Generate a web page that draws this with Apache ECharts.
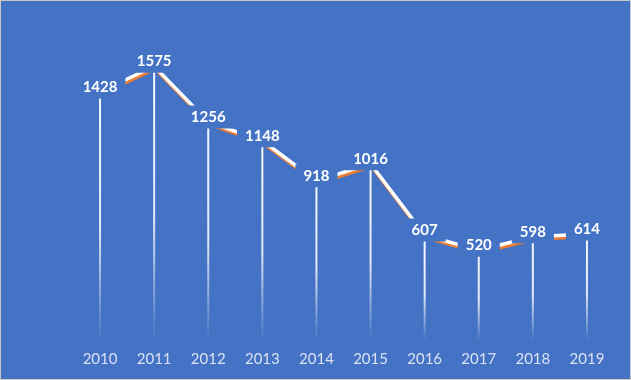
<!DOCTYPE html>
<html>
<head>
<meta charset="utf-8">
<script src="https://cdn.jsdelivr.net/npm/echarts@6/dist/echarts.min.js"></script>
<style>
html,body{margin:0;padding:0;background:#fff;}
#c{width:629px;height:378px;border:1px solid #c8c8c8;background:#4472C4;}
</style>
</head>
<body>
<div id="c"></div>
<script>
const years = ['2010','2011','2012','2013','2014','2015','2016','2017','2018','2019'];
const values = [1428,1575,1256,1148,918,1016,607,520,598,614];

const chart = echarts.init(document.getElementById('c'));
chart.setOption({
  backgroundColor: '#4472C4',
  animation: false,
  grid: {left: 72, right: 16, top: 26, bottom: 38},
  xAxis: {
    type: 'category',
    data: years,
    axisLine: {show: false},
    axisTick: {show: false},
    axisLabel: {color: '#dae2f3', fontFamily: 'Lato', fontSize: 15, margin: 11}
  },
  yAxis: {type: 'value', min: 0, max: 1800, show: false, splitLine: {show: false}},
  series: [
    {
      type: 'bar',
      z: 1,
      barWidth: 2,
      data: values,
      silent: true,
      itemStyle: {
        color: {
          type: 'linear', x: 0, y: 0, x2: 0, y2: 1,
          colorStops: [
            {offset: 0, color: 'rgba(255,255,255,0.95)'},
            {offset: 0.55, color: 'rgba(255,255,255,0.85)'},
            {offset: 1, color: 'rgba(255,255,255,0)'}
          ]
        }
      }
    },
    {
      type: 'line',
      z: 3,
      data: values,
      symbol: 'circle',
      symbolSize: 1,
      itemStyle: {color: 'rgba(0,0,0,0)'},
      lineStyle: {
        color: '#ffffff', width: 3.5,
        shadowColor: '#ED7D31', shadowBlur: 0, shadowOffsetX: 1, shadowOffsetY: 2.5
      },
      label: {
        show: true,
        position: 'inside',
        offset: [0, -5],
        color: '#ffffff',
        fontFamily: 'Lato',
        fontWeight: 'bold',
        fontSize: 15,
        backgroundColor: '#4472C4',
        padding: [4, 8]
      }
    }
  ]
});
</script>
</body>
</html>
